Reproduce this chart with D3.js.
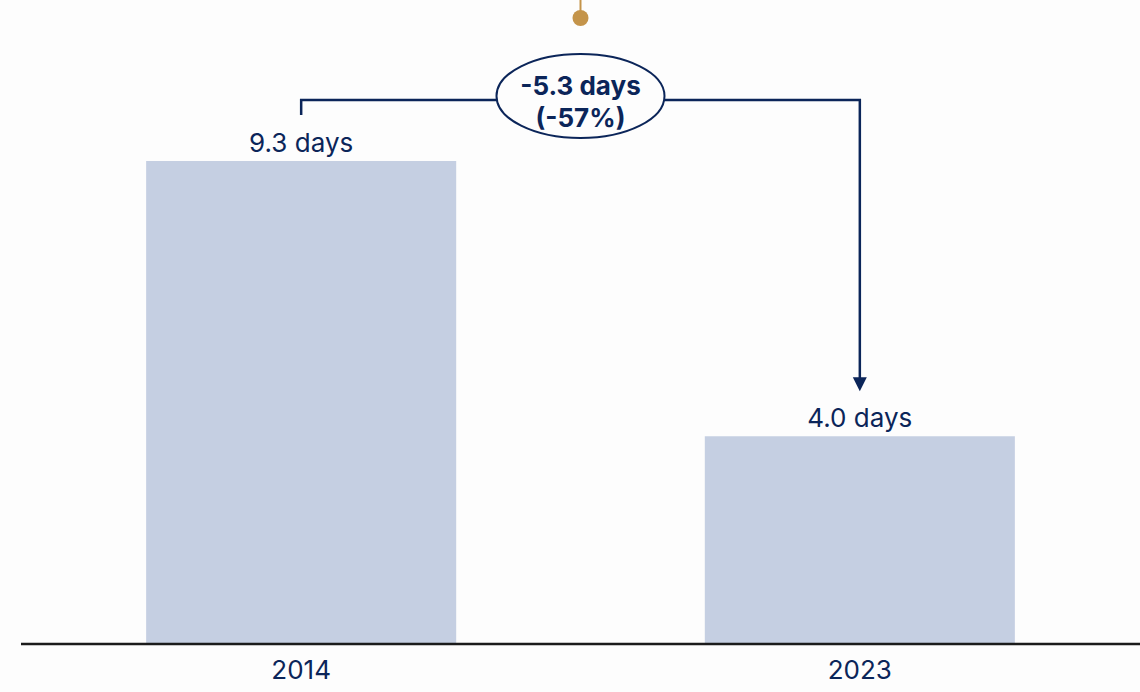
<!DOCTYPE html>
<html>
<head>
<meta charset="utf-8">
<script src="https://cdn.jsdelivr.net/npm/d3@7"></script>
<style>
  html, body { margin: 0; padding: 0; background: #fdfdfd; }
  svg { display: block; font-family: Inter, "Noto Sans", sans-serif; }
</style>
</head>
<body>
<svg id="chart" width="1140" height="692"></svg>
<script>
// Average length of stay, in days
const years = ["2014", "2023"];
const stayDays = [9.3, 4.0];
const unit = "days";

const navy = "#0b2559";
const barFill = "#c5cfe2";
const gold = "#c4944a";

const svg = d3.select("#chart");

const x = d3.scaleBand()
  .domain(years)
  .range([21, 1140])
  .paddingInner(0.445)
  .paddingOuter(0.224);

const y = d3.scaleLinear()
  .domain([0, 9.3])
  .range([644, 161]);

// Bars
svg.selectAll("rect.bar")
  .data(years)
  .join("rect")
  .attr("class", "bar")
  .attr("x", d => x(d))
  .attr("width", x.bandwidth())
  .attr("y", (d, i) => y(stayDays[i]))
  .attr("height", (d, i) => y(0) - y(stayDays[i]))
  .attr("fill", barFill);

// Value labels
svg.selectAll("text.value")
  .data(years)
  .join("text")
  .attr("class", "value")
  .attr("x", d => x(d) + x.bandwidth() / 2)
  .attr("y", (d, i) => y(stayDays[i]) - 9)
  .attr("text-anchor", "middle")
  .attr("font-size", 26)
  .attr("fill", navy)
  .text((d, i) => `${stayDays[i].toFixed(1)} ${unit}`);

// Baseline axis
const axis = svg.append("g")
  .attr("transform", `translate(0,${y(0)})`)
  .call(d3.axisBottom(x).tickSize(0).tickPadding(17));
axis.select(".domain")
  .attr("d", `M21,0H1140`)
  .attr("stroke", "#1b1b1b")
  .attr("stroke-width", 2.5);
axis.selectAll(".tick text")
  .attr("font-size", 26)
  .attr("font-family", "Inter, 'Noto Sans', sans-serif")
  .attr("fill", navy);

// Change bracket between the two bars
const cx0 = x(years[0]) + x.bandwidth() / 2;
const cx1 = x(years[1]) + x.bandwidth() / 2;
const bracketY = 100;
const arrowTip = y(stayDays[1]) - 45;

svg.append("path")
  .attr("d", `M${cx0},${y(stayDays[0]) - 46}V${bracketY}H${cx1}V${arrowTip - 12}`)
  .attr("fill", "none")
  .attr("stroke", navy)
  .attr("stroke-width", 2.5);

svg.append("path")
  .attr("d", `M${cx1 - 7},${arrowTip - 14}L${cx1 + 7},${arrowTip - 14}L${cx1},${arrowTip}Z`)
  .attr("fill", navy);

// Gold pin at the top
const midX = (cx0 + cx1) / 2;
svg.append("line")
  .attr("x1", midX).attr("x2", midX)
  .attr("y1", 0).attr("y2", 18)
  .attr("stroke", gold)
  .attr("stroke-width", 2);
svg.append("circle")
  .attr("cx", midX).attr("cy", 18).attr("r", 8)
  .attr("fill", gold);

// Change callout
const diff = stayDays[1] - stayDays[0];
const pct = Math.round(diff / stayDays[0] * 100);

svg.append("ellipse")
  .attr("cx", midX).attr("cy", 96)
  .attr("rx", 84).attr("ry", 42)
  .attr("fill", "#fdfdfd")
  .attr("stroke", navy)
  .attr("stroke-width", 2);

const callout = svg.append("text")
  .attr("text-anchor", "middle")
  .attr("font-size", 26)
  .attr("font-weight", 700)
  .attr("fill", navy);
callout.append("tspan")
  .attr("x", midX).attr("y", 95)
  .text(`${diff.toFixed(1)} ${unit}`);
callout.append("tspan")
  .attr("x", midX).attr("y", 127)
  .text(`(${pct}%)`);
</script>
</body>
</html>
